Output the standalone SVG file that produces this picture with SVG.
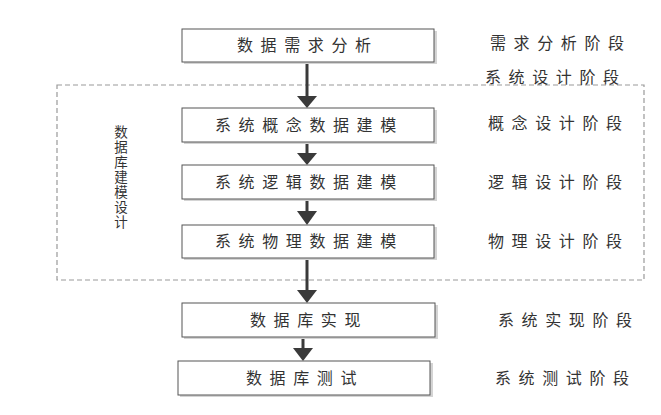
<svg xmlns="http://www.w3.org/2000/svg" width="661" height="415" viewBox="0 0 661 415">
<style>
.box{fill:#fff;stroke:#555;stroke-width:1}
.sh{fill:#d4d4d4}
.t{font-family:"Noto Sans CJK SC","Noto Sans",sans-serif;font-size:16px;fill:#333;letter-spacing:7.6px}
.v{font-family:"Noto Sans CJK SC","Noto Sans",sans-serif;font-size:13.5px;fill:#333;writing-mode:vertical-rl;letter-spacing:1.6px}
.ln{stroke:#3a3a3a;stroke-width:3;fill:none}
.hd{fill:#3a3a3a}
</style>
<rect width="661" height="415" fill="#fff"/>
<g id="region">
<rect x="57" y="85" width="587" height="195" fill="none" stroke="#999" stroke-width="1.2" stroke-dasharray="5 3"/>
<text class="v" x="121" y="125">数据库建模设计</text>
</g>
<g id="connectors">
<line class="ln" x1="307" y1="62" x2="307" y2="97"/><path class="hd" d="M297,96 L317,96 L307,108 Z"/>
<line class="ln" x1="307" y1="142" x2="307" y2="154"/><path class="hd" d="M297,153 L317,153 L307,165 Z"/>
<line class="ln" x1="307" y1="199" x2="307" y2="212"/><path class="hd" d="M297,211 L317,211 L307,225 Z"/>
<line class="ln" x1="307" y1="258" x2="307" y2="291"/><path class="hd" d="M297,290 L317,290 L307,303 Z"/>
<line class="ln" x1="303" y1="337" x2="303" y2="349"/><path class="hd" d="M293,348 L313,348 L303,361 Z"/>
</g>
<g id="n1"><rect class="sh" x="184" y="31" width="253" height="33"/><rect class="box" x="182" y="29" width="252" height="33"/><text class="t" x="237" y="51">数据需求分析</text></g>
<g id="n2"><rect class="sh" x="184" y="110" width="253" height="34"/><rect class="box" x="182" y="108" width="252" height="34"/><text class="t" x="215" y="131">系统概念数据建模</text></g>
<g id="n3"><rect class="sh" x="184" y="167" width="253" height="34"/><rect class="box" x="182" y="165" width="252" height="34"/><text class="t" x="215" y="188">系统逻辑数据建模</text></g>
<g id="n4"><rect class="sh" x="184" y="227" width="253" height="33"/><rect class="box" x="182" y="225" width="252" height="33"/><text class="t" x="215" y="247">系统物理数据建模</text></g>
<g id="n5"><rect class="sh" x="184" y="305" width="254" height="34"/><rect class="box" x="182" y="303" width="253" height="34"/><text class="t" x="250" y="326">数据库实现</text></g>
<g id="n6"><rect class="sh" x="180" y="363" width="253" height="34"/><rect class="box" x="178" y="361" width="252" height="34"/><text class="t" x="246" y="384">数据库测试</text></g>
<g id="labels">
<text class="t" x="490" y="49">需求分析阶段</text>
<text class="t" x="485" y="83">系统设计阶段</text>
<text class="t" x="488" y="129">概念设计阶段</text>
<text class="t" x="488" y="188">逻辑设计阶段</text>
<text class="t" x="488" y="247">物理设计阶段</text>
<text class="t" x="498" y="326">系统实现阶段</text>
<text class="t" x="495" y="384">系统测试阶段</text>
</g>
</svg>
